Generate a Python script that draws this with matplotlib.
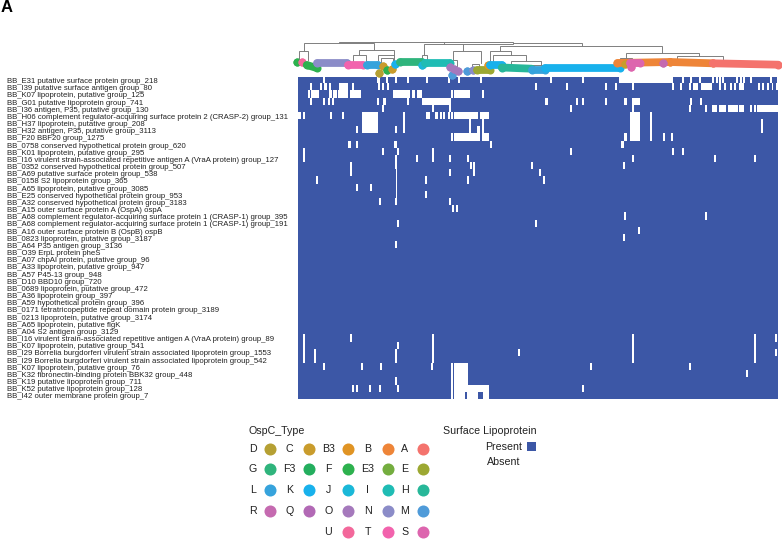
import numpy as np
import matplotlib
matplotlib.use("Agg")
import matplotlib.pyplot as plt
from matplotlib.colors import ListedColormap
from matplotlib.patches import Rectangle

plt.rcParams['font.family'] = ['Liberation Sans', 'DejaVu Sans']

W, H = 782, 543
N_SAMPLES = 480

row_labels = [
    "BB_E31 putative surface protein group_218",
    "BB_I39 putative surface antigen group_80",
    "BB_K07 lipoprotein, putative group_125",
    "BB_G01 putative lipoprotein group_741",
    "BB_I36 antigen, P35, putative group_130",
    "BB_H06 complement regulator-acquiring surface protein 2 (CRASP-2) group_131",
    "BB_H37 lipoprotein, putative group_208",
    "BB_H32 antigen, P35, putative group_3113",
    "BB_F20 BBF20 group_1275",
    "BB_0758 conserved hypothetical protein group_620",
    "BB_K01 lipoprotein, putative group_295",
    "BB_I16 virulent strain-associated repetitive antigen A (VraA protein) group_127",
    "BB_0352 conserved hypothetical protein group_507",
    "BB_A69 putative surface protein group_538",
    "BB_0158 S2 lipoprotein group_365",
    "BB_A65 lipoprotein, putative group_3085",
    "BB_E25 conserved hypothetical protein group_953",
    "BB_A32 conserved hypothetical protein group_3183",
    "BB_A15 outer surface protein A (OspA) ospA",
    "BB_A68 complement regulator-acquiring surface protein 1 (CRASP-1) group_395",
    "BB_A68 complement regulator-acquiring surface protein 1 (CRASP-1) group_191",
    "BB_A16 outer surface protein B (OspB) ospB",
    "BB_0823 lipoprotein, putative group_3187",
    "BB_A64 P35 antigen group_3136",
    "BB_O39 ErpL protein pheS",
    "BB_A07 chpAI protein, putative group_96",
    "BB_A33 lipoprotein, putative group_947",
    "BB_A57 P45-13 group_948",
    "BB_D10 BBD10 group_720",
    "BB_0689 lipoprotein, putative group_472",
    "BB_A36 lipoprotein group_397",
    "BB_A59 hypothetical protein group_396",
    "BB_0171 tetratricopeptide repeat domain protein group_3189",
    "BB_0213 lipoprotein, putative group_3174",
    "BB_A65 lipoprotein, putative flgK",
    "BB_A04 S2 antigen group_3129",
    "BB_I16 virulent strain-associated repetitive antigen A (VraA protein) group_89",
    "BB_K07 lipoprotein, putative group_541",
    "BB_I29 Borrelia burgdorferi virulent strain associated lipoprotein group_1553",
    "BB_I29 Borrelia burgdorferi virulent strain associated lipoprotein group_542",
    "BB_K07 lipoprotein, putative group_76",
    "BB_K32 fibronectin-binding protein BBK32 group_448",
    "BB_K19 putative lipoprotein group_711",
    "BB_K52 putative lipoprotein group_128",
    "BB_I42 outer membrane protein group_7",
]

# samples where a gene is absent, per row. an int is one sample, a tuple a run of samples
absent = [
    [25, (79, 82), 88, 97, 109, 128, 150, 160, 182, 252, 284, (321, 375), 384, 392, 401, 414, 418, 421, 424, 438, 442, 445, 452, 472, 479],
    [12, (22, 24), (26, 29), 31, 41, (43, 50), 54, 80, 84, 89, 237, 268, 307, 317, 334, 374, 382, 391, (395, 400), (403, 414), 421, 426, 432, 436, (441, 446), 460, 464, 469, (474, 475), 478],
    [10, (13, 21), (31, 34), (35, 39), (40, 50), (52, 63), (95, 112), (114, 117), (119, 124), 153, (156, 172), 184],
    [12, 25, 30, 34, 79, (85, 88), 109, (124, 153), (247, 250), 278, 284, 307, (326, 329), (334, 342), 392, 402],
    [84, 134, 151, 272, 334, 391, 407, (414, 419), (421, 428), (430, 440), (441, 446), 452, 456, (459, 480)],
    [(0, 3), 5, 32, 44, (64, 80), 105, (128, 132), (137, 140), (142, 144), 145, 150, 153, (156, 180), (182, 191), (332, 342), 352],
    [(64, 80), 105, 171, 184, (332, 342), 352, 463],
    [58, (64, 80), 97, 105, 171, (179, 182), 184, (332, 342), 352, 463],
    [153, (156, 182), (184, 191), (326, 329), (332, 342), 352, 365, 373],
    [(50, 53), 58, (96, 99), 192, (323, 326)],
    [5, 84, 99, 134, 272, 374, 384],
    [5, 97, 118, 134, 151, 169, 334, 416, 456],
    [52, (97, 99), 172, 175, 233, 325],
    [52, (98, 99), 151, 175, 241],
    [18, (98, 99), 127, 169, 245],
    [58, 72, (98, 99)],
    [(98, 99), 127],
    [81, 97, 151],
    [154, 158],
    [326, 407],
    [99, 237],
    [340],
    [325],
    [97],
    [], [], [], [], [], [], [], [], [], [], [], [],
    [5, 52, 134, 334, 456, 477],
    [5, 99, 134, 334, 456],
    [5, 16, 97, 134, 220, 334, 456, 477],
    [5, 16, 97, 134, 334, 456],
    [25, 63, 82, 133, 153, (156, 170), 292, 391],
    [153, (156, 170), 448],
    [97, 153, (156, 170)],
    [54, 58, 71, 81, 99, 153, (156, 191), 284],
    [153, (156, 167), (169, 180), (185, 191)],
]

# dendrogram brackets: left, right, top, left bottom, right bottom
tree_brackets = [
    (339.3, 512.7, 42.0, 43.3, 43.0),
    (304.0, 374.3, 43.3, 51.0, 49.7),
    (298.7, 308.0, 51.0, 60.0, 60.0),
    (359.0, 394.0, 49.7, 55.3, 55.3),
    (352.7, 365.7, 55.3, 62.0, 62.0),
    (378.3, 394.0, 55.3, 60.0, 64.0),
    (380.7, 393.3, 58.3, 68.0, 62.0),
    (424.3, 512.7, 44.0, 54.7, 43.0),
    (512.7, 581.7, 43.0, 43.0, 46.3),
    (500.0, 662.3, 46.3, 51.3, 53.3),
    (422.0, 427.3, 54.7, 61.0, 61.0),
    (452.7, 480.7, 51.3, 60.0, 63.3),
    (450.7, 457.0, 60.0, 65.0, 66.0),
    (472.0, 479.3, 64.0, 68.0, 68.0),
    (490.0, 510.7, 51.3, 66.0, 55.3),
    (493.0, 526.0, 55.3, 63.3, 61.3),
    (510.7, 541.0, 61.3, 66.0, 65.3),
    (531.7, 545.7, 65.3, 68.0, 68.0),
    (625.7, 699.3, 53.3, 58.3, 56.0),
    (620.0, 631.7, 58.3, 61.0, 61.0),
    (676.7, 723.3, 56.0, 62.0, 61.0),
]
# single stems: x, top, bottom
tree_stems = [
    (444.3, 42.0, 44.0),
    (462.7, 44.0, 51.3),
]

# tips of the tree: ospC type, x from, x to, y from, y to
tip_types = ["F", "U", "F", "N", "T", "L", "D", "C", "F", "C", "K", "G", "J", "I", "O", "M", "O", "O", "M", "N", "E", "B3", "K", "H", "L", "K", "B", "B", "C", "S", "S", "R", "A"]
tip_x0 = [297.3, 301.7, 306.7, 316.7, 348.3, 366.7, 379.3, 383.3, 386.7, 391.7, 395.0, 400.0, 421.7, 425.0, 450.0, 451.7, 454.0, 458.3, 466.7, 473.3, 476.7, 488.0, 490.0, 501.7, 531.7, 545.0, 617.3, 670.0, 625.0, 630.0, 630.7, 662.7, 712.7]
tip_x1 = [297.3, 301.7, 316.7, 346.7, 363.3, 378.0, 379.3, 383.3, 386.7, 391.7, 395.0, 421.7, 421.7, 450.0, 450.0, 451.7, 454.0, 458.3, 466.7, 473.3, 490.0, 488.0, 501.7, 531.7, 545.0, 620.0, 670.0, 712.7, 625.0, 640.0, 630.7, 662.7, 778.3]
tip_y0 = [61.7, 61.7, 65.0, 62.7, 64.7, 64.7, 73.0, 66.3, 70.3, 68.7, 64.0, 62.3, 64.7, 63.0, 67.3, 74.7, 68.7, 71.3, 71.3, 69.7, 69.7, 65.0, 64.7, 67.5, 69.7, 68.0, 63.0, 62.0, 64.0, 63.3, 66.7, 62.7, 63.3]
tip_y1 = [61.7, 61.7, 68.0, 62.7, 64.7, 64.7, 73.0, 66.3, 70.3, 68.7, 64.0, 62.3, 64.7, 63.0, 67.3, 74.7, 68.7, 71.3, 71.3, 69.7, 69.7, 65.0, 64.7, 68.7, 69.7, 68.0, 62.0, 63.3, 64.0, 63.3, 66.7, 62.7, 64.7]

# legend rows, in the order they are read
legend_rows = [
    ["D", "C", "B3", "B", "A"],
    ["G", "F3", "F", "E3", "E"],
    ["L", "K", "J", "I", "H"],
    ["R", "Q", "O", "N", "M"],
    ["", "", "U", "T", "S"],
]
ospc_colors = {
    "D": "#b5a033", "C": "#c99c2c", "B3": "#e09424", "B": "#ee8538", "A": "#f4736d",
    "G": "#2fb47c", "F3": "#24ae5e", "F": "#2db14e", "E3": "#74ad3f", "E": "#9ca832",
    "L": "#36a3dc", "K": "#18b1ec", "J": "#1ab8d8", "I": "#1fbcb4", "H": "#27b799",
    "R": "#c56ab0", "Q": "#b269b5", "O": "#a579bc", "N": "#8b8cc8", "M": "#4f9bd9",
    "U": "#f3689b", "T": "#f263ad", "S": "#dd65ae",
}

PRESENT = "#3c57a6"

# build the presence matrix, a single absent sample shows about 2 px wide in the original
matrix = np.ones((len(row_labels), N_SAMPLES))
for r, spans in enumerate(absent):
    for s in spans:
        if isinstance(s, tuple):
            matrix[r, s[0]:s[1]] = 0
        else:
            matrix[r, s:s + 2] = 0

fig = plt.figure(figsize=(W / 100, H / 100), dpi=100)


# axes placed by pixel box, measured from the top left of the picture
def box_axes(x0, y0, x1, y1):
    return fig.add_axes([x0 / W, 1 - y1 / H, (x1 - x0) / W, (y1 - y0) / H])


# heatmap
ax = box_axes(297.5, 77, 777.5, 399.5)
ax.imshow(matrix, aspect='auto', cmap=ListedColormap(["white", PRESENT]), vmin=0, vmax=1, interpolation='nearest')
ax.set_xticks([])
ax.set_yticks(range(len(row_labels)))
ax.set_yticklabels(row_labels, fontsize=5.55, ha='left', color="#222222")
ax.tick_params(axis='y', length=0, pad=209)
for side in ax.spines.values():
    side.set_visible(False)

# overlay in picture pixels for the tree and the legends
over = fig.add_axes([0, 0, 1, 1], zorder=3)
over.set_xlim(0, W)
over.set_ylim(H, 0)
over.axis('off')

for x0, x1, top, b0, b1 in tree_brackets:
    over.plot([x0, x0, x1, x1], [b0, top, top, b1], color="#7f7f7f", lw=0.7, solid_joinstyle='miter')
for x, top, bottom in tree_stems:
    over.plot([x, x], [top, bottom], color="#7f7f7f", lw=0.7)

for t, x0, x1, y0, y1 in zip(tip_types, tip_x0, tip_x1, tip_y0, tip_y1):
    over.plot([x0, x1], [y0, y1], color=ospc_colors[t], lw=5.6, solid_capstyle='round',
              marker='o', ms=5.8, mew=0)

over.text(0.7, 8, "A", fontsize=12, fontweight='bold', va='center', ha='left', color="black")

# OspC_Type legend
label_x = [252.7, 289.3, 328.3, 367.7, 405.0]
dot_x = [270.0, 309.0, 348.3, 387.7, 422.7]
row_y = [448.5, 469.3, 490.3, 511.0, 531.7]
over.text(248.5, 431, "OspC_Type", fontsize=7.7, va='center', ha='left', color="#222222")
for y, names in zip(row_y, legend_rows):
    for lx, dx, name in zip(label_x, dot_x, names):
        if name:
            over.text(lx, y, name, fontsize=7.7, va='center', ha='center', color="#222222")
            over.scatter([dx], [y], s=75, color=ospc_colors[name], linewidths=0)

# Surface Lipoprotein legend
over.text(442.7, 431, "Surface Lipoprotein", fontsize=7.7, va='center', ha='left', color="#222222")
over.text(521.7, 446.5, "Present", fontsize=7.7, va='center', ha='right', color="#222222")
over.text(520, 462, "Absent", fontsize=7.7, va='center', ha='right', color="#222222")
over.add_patch(Rectangle((527, 442), 9, 9, color=PRESENT, lw=0))

fig.savefig("out.png", dpi=100)
